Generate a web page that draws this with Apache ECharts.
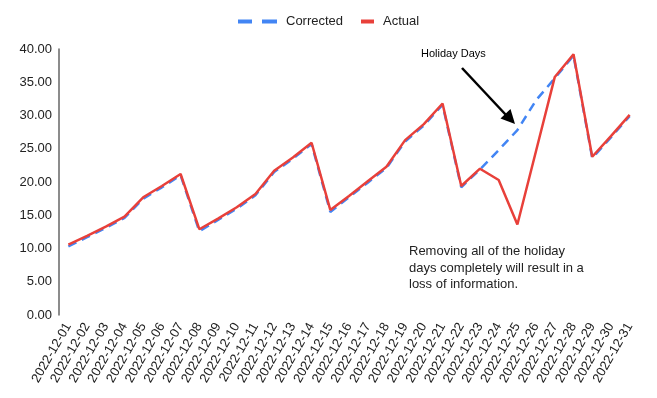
<!DOCTYPE html>
<html>
<head>
<meta charset="utf-8">
<script src="https://cdn.jsdelivr.net/npm/echarts@6/dist/echarts.min.js"></script>
<style>
  html, body { margin: 0; padding: 0; background: #fff; }
  #chart { width: 657px; height: 398px; }
</style>
</head>
<body>
<div id="chart"></div>
<script>
const days = [];
for (let d = 1; d <= 31; d++) {
  days.push("2022-12-" + (d < 10 ? "0" + d : d));
}
const corrected = [10.3, 11.7, 13.1, 14.6, 17.5, 19.2, 21.0, 12.6, 14.3, 16.0, 18.0,
  21.5, 23.5, 25.7, 15.5, 17.7, 19.9, 22.1, 26.1, 28.5, 31.6, 19.2, 21.9, 24.8,
  27.8, 32.3, 35.6, 39.0, 23.6, 26.7, 29.9];
const actual = [10.6, 11.9, 13.3, 14.8, 17.7, 19.4, 21.2, 12.9, 14.5, 16.2, 18.2,
  21.7, 23.7, 25.9, 15.8, 17.9, 20.1, 22.3, 26.3, 28.7, 31.8, 19.4, 22.0, 20.3,
  13.6, 24.7, 35.8, 39.2, 23.8, 26.9, 30.1];
const yTicks = { min: 0, max: 40, interval: 5 };

const BLUE = "#4285f4";
const RED = "#e8403a";
const FONT = "Liberation Sans, Arial, sans-serif";

const chart = echarts.init(document.getElementById("chart"), null, { renderer: "canvas" });

const option = {
  animation: false,
  textStyle: { fontFamily: FONT },
  legend: [
    {
      left: 238, top: 15, padding: 0,
      data: ["Corrected"],
      icon: "path://M0,0H14V4H0ZM24,0H39V4H24Z",
      itemWidth: 39, itemHeight: 4,
      textStyle: { fontSize: 13, color: "#222", padding: [0, 0, 0, 4] }
    },
    {
      left: 361, top: 15, padding: 0,
      data: ["Actual"],
      icon: "path://M0,0H13V4H0Z",
      itemWidth: 13, itemHeight: 4,
      textStyle: { fontSize: 13, color: "#222", padding: [0, 0, 0, 4] }
    }
  ],
  grid: { left: 59, right: 18, top: 49, bottom: 83 },
  xAxis: {
    type: "category",
    data: days,
    boundaryGap: true,
    axisLine: { show: false },
    axisTick: { show: false },
    axisLabel: {
      interval: 0, rotate: 60, fontSize: 13, color: "#222", margin: 9
    }
  },
  yAxis: {
    type: "value",
    min: yTicks.min, max: yTicks.max, interval: yTicks.interval,
    axisLine: { show: true, lineStyle: { color: "#666", width: 1.5 } },
    axisTick: { show: false },
    splitLine: { show: false },
    axisLabel: {
      fontSize: 13, color: "#222", margin: 7,
      formatter: v => v.toFixed(2)
    }
  },
  series: [
    {
      name: "Corrected",
      type: "line",
      data: corrected,
      showSymbol: false,
      symbol: "none",
      color: BLUE,
      lineStyle: { color: BLUE, width: 2.5, type: [9, 6] }
    },
    {
      name: "Actual",
      type: "line",
      data: actual,
      showSymbol: false,
      symbol: "none",
      color: RED,
      lineStyle: { color: RED, width: 2.5 }
    }
  ],
  graphic: [
    {
      type: "text", left: 421, top: 48,
      style: { text: "Holiday Days", fontSize: 11, fill: "#000", fontFamily: FONT }
    },
    {
      type: "line",
      shape: { x1: 462, y1: 68, x2: 506, y2: 115 },
      style: { stroke: "#000", lineWidth: 2.5 }
    },
    {
      type: "polygon",
      shape: { points: [[515, 124], [500.5, 118.5], [510.5, 109]] },
      style: { fill: "#000" }
    },
    {
      type: "text", left: 409, top: 243,
      style: {
        text: "Removing all of the holiday\ndays completely will result in a\nloss of information.",
        fontSize: 13, lineHeight: 16.7, fill: "#222", fontFamily: FONT
      }
    }
  ]
};

chart.setOption(option);
</script>
</body>
</html>
